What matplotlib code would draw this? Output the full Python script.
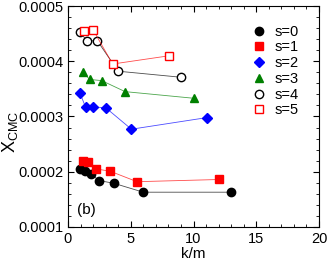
import matplotlib
matplotlib.use("Agg")
import matplotlib.pyplot as plt
from matplotlib.ticker import MultipleLocator, FormatStrFormatter

plt.rcParams['font.family'] = ['Liberation Sans', 'DejaVu Sans']

x0 = [0.93, 1.38, 1.8, 2.5, 3.67, 6.0, 13.0]
y0 = [0.000205, 0.000202, 0.000196, 0.000184, 0.000179, 0.000163, 0.000163]
x1 = [1.17, 1.6, 2.26, 3.35, 5.5, 12.07]
y1 = [0.000219, 0.000217, 0.000205, 0.000201, 0.000182, 0.000186]
x2 = [0.96, 1.4, 2.02, 3.0, 5.05, 11.06]
y2 = [0.000342, 0.000317, 0.000317, 0.000316, 0.000277, 0.000298]
x3 = [1.22, 1.72, 2.68, 4.55, 10.02]
y3 = [0.000380, 0.000367, 0.000365, 0.000345, 0.000333]
x4 = [0.93, 1.52, 2.34, 3.99, 9.02]
y4 = [0.000453, 0.000437, 0.000437, 0.000382, 0.000371]
x5 = [1.28, 2.02, 3.56, 8.08]
y5 = [0.000455, 0.000456, 0.000395, 0.000410]

series = [
    (x0, y0, 's=0', 'black', 'o', True),
    (x1, y1, 's=1', 'red', 's', True),
    (x2, y2, 's=2', 'blue', 'D', True),
    (x3, y3, 's=3', 'green', '^', True),
    (x4, y4, 's=4', 'black', 'o', False),
    (x5, y5, 's=5', 'red', 's', False),
]

fig = plt.figure(figsize=(3.28, 2.62), dpi=100)
ax = fig.add_axes([68/328, 1-227/262, 251/328, 221/262])

for x, y, lab, c, m, filled in series:
    ms = 5.2 if m == 'D' else 6
    ax.plot(x, y, '-', color=c, lw=0.6, alpha=0.7)
    ax.plot(x, y, linestyle='none', marker=m, markersize=ms,
            markerfacecolor=c if filled else 'white', markeredgecolor=c,
            markeredgewidth=1.0, label=lab)

ax.set_xlim(0, 20)
ax.set_ylim(0.0001, 0.0005)
ax.xaxis.set_major_locator(MultipleLocator(5))
ax.xaxis.set_minor_locator(MultipleLocator(1))
ax.yaxis.set_major_locator(MultipleLocator(0.0001))
ax.yaxis.set_minor_locator(MultipleLocator(0.00002))
ax.yaxis.set_major_formatter(FormatStrFormatter('%.4f'))
ax.tick_params(which='both', direction='in', top=True, right=True, labelsize=10.5)
ax.tick_params(which='major', length=4)
ax.tick_params(which='minor', length=2)
ax.set_xlabel('k/m', fontsize=11, labelpad=1)
fig.text(10/328, 1-132/262, r'X$_{\mathregular{CMC}}$', fontsize=13,
         rotation=90, ha='center', va='center')
ax.text(1.5, 0.00013, '(b)', fontsize=11, ha='center', va='center')

ax.legend(loc='upper right', frameon=False, fontsize=10.5, handlelength=1.0,
          handletextpad=0.6, labelspacing=0.12, borderaxespad=0.8,
          bbox_to_anchor=(0.99, 0.995))

fig.savefig('out.png', dpi=100)
